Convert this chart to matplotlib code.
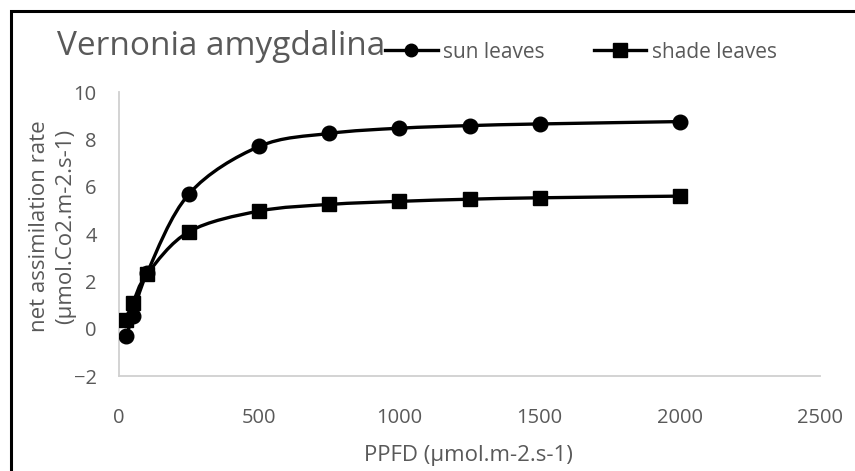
import numpy as np
import matplotlib
matplotlib.use("Agg")
import matplotlib.pyplot as plt
from matplotlib.path import Path
import matplotlib.patches as patches
from matplotlib.lines import Line2D

ppfd = [25, 50, 100, 250, 500, 750, 1000, 1250, 1500, 2000]
sun_leaves = [-0.33, 0.55, 2.35, 5.7, 7.7, 8.25, 8.47, 8.58, 8.65, 8.75]
shade_leaves = [0.35, 1.1, 2.3, 4.1, 4.97, 5.25, 5.38, 5.47, 5.53, 5.6]

x_ticks = [0, 500, 1000, 1500, 2000, 2500]
y_ticks = [-2, 0, 2, 4, 6, 8, 10]

TEXT_GREY = "#595959"
AXIS_GREY = "#d0d0d0"

plt.rcParams['font.family'] = ['Open Sans', 'DejaVu Sans']


def smooth_path(xs, ys, tension=1 / 6):
    # Excel-style smoothed line: cubic bezier segments, Catmull-Rom control points
    pts = np.column_stack([xs, ys]).astype(float)
    n = len(pts)
    verts = [pts[0]]
    codes = [Path.MOVETO]
    for i in range(n - 1):
        p0 = pts[max(i - 1, 0)]
        p1 = pts[i]
        p2 = pts[i + 1]
        p3 = pts[min(i + 2, n - 1)]
        c1 = p1 + (p2 - p0) * tension
        c2 = p2 - (p3 - p1) * tension
        verts += [c1, c2, p2]
        codes += [Path.CURVE4] * 3
    return Path(verts, codes)


fig = plt.figure(figsize=(8.55, 4.71), dpi=100)
ax = fig.add_axes([119 / 855, 1 - 376 / 471, 701 / 855, 284 / 471])

for ys, marker in [(sun_leaves, "o"), (shade_leaves, "s")]:
    ax.add_patch(patches.PathPatch(smooth_path(ppfd, ys), facecolor="none",
                                   edgecolor="black", lw=2.4, zorder=2))
    ax.plot(ppfd, ys, linestyle="none", marker=marker, color="black",
            markersize=10.5 if marker == "o" else 10, zorder=3)

ax.set_xlim(0, 2500)
ax.set_ylim(-2, 10)
ax.set_xticks(x_ticks)
ax.set_yticks(y_ticks)
ax.tick_params(length=0, labelsize=14.5, labelcolor=TEXT_GREY)
ax.tick_params(axis="x", pad=23)
ax.tick_params(axis="y", pad=16)
for side in ["top", "right"]:
    ax.spines[side].set_visible(False)
for side in ["left", "bottom"]:
    ax.spines[side].set_color(AXIS_GREY)
    ax.spines[side].set_linewidth(1.3)

fig.text(468 / 855, 1 - 455 / 471, "PPFD (µmol.m-2.s-1)", fontsize=16,
         color=TEXT_GREY, ha="center", va="center")
fig.text(52.5 / 855, 1 - 226 / 471, "net assimilation rate\n(µmol.Co2.m-2.s-1)",
         fontsize=16, color=TEXT_GREY, ha="center", va="center", rotation=90,
         linespacing=1.3)

fig.text(57 / 855, 1 - 55 / 471, "Vernonia amygdalina", fontsize=24,
         color=TEXT_GREY, va="baseline", ha="left")

handles = [Line2D([], [], color="black", lw=2.4, marker="o", markersize=9),
           Line2D([], [], color="black", lw=2.4, marker="s", markersize=9.5)]
fig.legend(handles, ["sun leaves", "shade leaves"], loc="center left",
           bbox_to_anchor=(375 / 855, 1 - 52 / 471), ncol=2, frameon=False,
           borderpad=0, handlelength=2.5, handletextpad=0.25, columnspacing=2.4,
           fontsize=15, labelcolor=TEXT_GREY)

# outer chart border (cut off on the right and bottom)
fig.add_artist(patches.Rectangle((11 / 855, -0.1), 1.0, 1 - 11 / 471 + 0.1,
                                 transform=fig.transFigure, fill=False,
                                 edgecolor="black", lw=2.2))

fig.savefig("out.png", dpi=100)
